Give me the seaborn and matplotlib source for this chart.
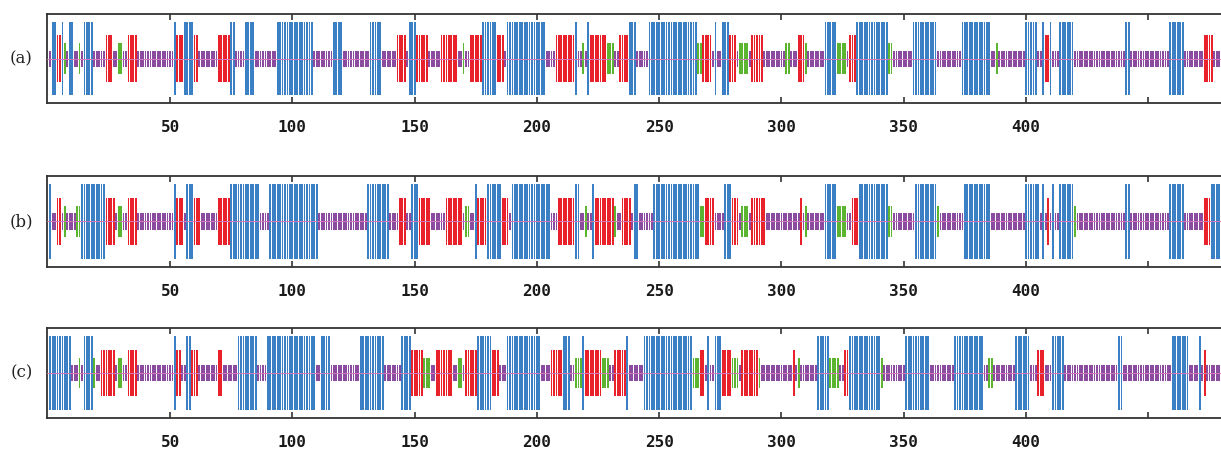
"""
Per-residue state tracks for three predictions (a), (b), (c).
"""
import matplotlib
matplotlib.use("Agg")
import matplotlib.pyplot as plt
import seaborn as sns
import numpy as np
import pandas as pd

n_res = 479
row_labels = ["(a)", "(b)", "(c)"]
tick_values = [50, 100, 150, 200, 250, 300, 350, 400, 450]
tick_labels = ["50", "100", "150", "200", "250", "300", "350", "400", ""]

# (first residue, last residue, state); residues not listed are coil "C"
runs_a = [
    (2, 3, "H"), (4, 5, "E"), (6, 6, "H"), (7, 7, "G"), (9, 10, "H"), (13, 13, "G"),
    (15, 18, "H"), (24, 26, "E"), (29, 30, "G"), (33, 36, "E"), (52, 52, "H"),
    (53, 55, "E"), (56, 59, "H"), (60, 61, "E"), (70, 74, "E"), (75, 76, "H"),
    (81, 84, "H"), (94, 108, "H"), (117, 120, "H"), (132, 136, "H"), (143, 146, "E"),
    (148, 150, "H"), (151, 155, "E"), (161, 167, "E"), (170, 170, "G"), (173, 177, "E"),
    (178, 183, "H"), (184, 186, "E"), (188, 203, "H"), (208, 215, "E"), (216, 216, "H"),
    (219, 219, "G"), (221, 221, "H"), (222, 228, "E"), (229, 231, "G"), (234, 237, "E"),
    (238, 240, "H"), (246, 265, "H"), (266, 267, "G"), (268, 271, "E"), (273, 273, "H"),
    (276, 278, "H"), (279, 281, "E"), (283, 286, "G"), (288, 292, "E"), (302, 303, "G"),
    (307, 309, "E"), (310, 310, "G"), (318, 322, "H"), (323, 326, "G"), (328, 330, "E"),
    (331, 343, "H"), (344, 345, "G"), (354, 363, "H"), (374, 385, "H"), (388, 388, "G"),
    (400, 404, "H"), (407, 407, "H"), (408, 409, "E"), (410, 410, "H"), (414, 419, "H"),
    (441, 442, "H"), (459, 464, "H"), (473, 476, "E"),
]
runs_b = [
    (1, 1, "H"), (4, 5, "E"), (7, 7, "G"), (12, 13, "G"), (14, 23, "H"), (24, 27, "E"),
    (29, 30, "G"), (33, 36, "E"), (52, 52, "H"), (53, 55, "E"), (57, 59, "H"),
    (60, 62, "E"), (70, 74, "E"), (75, 86, "H"), (91, 110, "H"), (131, 139, "H"),
    (144, 146, "E"), (149, 151, "H"), (152, 156, "E"), (163, 169, "E"), (171, 172, "G"),
    (175, 175, "H"), (176, 179, "E"), (180, 185, "H"), (186, 188, "E"), (190, 205, "H"),
    (209, 215, "E"), (216, 217, "H"), (220, 220, "G"), (223, 223, "H"), (224, 231, "E"),
    (232, 232, "G"), (235, 238, "E"), (240, 241, "H"), (248, 266, "H"), (267, 268, "G"),
    (269, 272, "E"), (277, 279, "H"), (280, 282, "E"), (284, 286, "G"), (288, 293, "E"),
    (308, 308, "E"), (310, 310, "G"), (318, 322, "H"), (323, 326, "G"), (329, 331, "E"),
    (332, 343, "H"), (344, 345, "G"), (355, 363, "H"), (364, 364, "G"), (375, 385, "H"),
    (400, 405, "H"), (407, 407, "H"), (409, 409, "E"), (411, 411, "H"), (414, 419, "H"),
    (420, 420, "G"), (441, 442, "H"), (459, 464, "H"), (473, 475, "E"), (476, 479, "H"),
]
runs_c = [
    (1, 9, "H"), (13, 13, "G"), (15, 18, "H"), (19, 19, "G"), (22, 27, "E"), (29, 30, "G"),
    (33, 36, "E"), (52, 52, "H"), (53, 54, "E"), (57, 58, "H"), (59, 61, "E"),
    (70, 71, "E"), (78, 85, "H"), (90, 109, "H"), (112, 115, "H"), (128, 137, "H"),
    (145, 148, "H"), (149, 153, "E"), (154, 156, "G"), (159, 165, "E"), (168, 169, "G"),
    (171, 175, "E"), (176, 181, "H"), (182, 184, "E"), (188, 201, "H"), (206, 210, "E"),
    (211, 213, "H"), (216, 218, "G"), (219, 219, "H"), (220, 226, "E"), (227, 229, "G"),
    (232, 236, "E"), (237, 237, "H"), (244, 263, "H"), (264, 266, "G"), (267, 268, "E"),
    (270, 270, "H"), (273, 275, "H"), (276, 279, "E"), (280, 282, "G"), (284, 290, "E"),
    (291, 291, "G"), (305, 305, "E"), (307, 307, "G"), (315, 319, "H"), (320, 323, "G"),
    (326, 327, "E"), (328, 340, "H"), (341, 341, "G"), (351, 360, "H"), (371, 382, "H"),
    (385, 386, "G"), (396, 401, "H"), (405, 407, "E"), (411, 415, "H"), (438, 439, "H"),
    (460, 466, "H"), (471, 471, "H"), (473, 473, "E"),
]

state_half = {"H": 0.83, "E": 0.52, "G": 0.34, "C": 0.18}
state_colors = {"H": "#3b7fc4", "E": "#e8212b", "G": "#5cb531", "C": "#8b4c9f"}


def expand(runs):
    states = np.array(["C"] * n_res, dtype=object)
    for first, last, st in runs:
        states[first - 1:min(last, n_res)] = st
    df = pd.DataFrame({"residue": np.arange(1, n_res + 1), "state": states})
    df["half"] = df["state"].map(state_half)
    return df


sns.set_style("white")
fig = plt.figure(figsize=(12.21, 4.49), dpi=100)

# axes rectangles (fig fraction) for the three rows
rects = [
    [0.0385, 0.7706, 0.9615, 0.198],
    [0.0385, 0.4055, 0.9615, 0.2027],
    [0.0385, 0.0690, 0.9615, 0.2005],
]

for runs, label, rect in zip([runs_a, runs_b, runs_c], row_labels, rects):
    ax = fig.add_axes(rect)
    df = expand(runs)
    df["neg"] = -df["half"]
    for col in ["half", "neg"]:
        sns.barplot(data=df, x="residue", y=col, hue="state", palette=state_colors,
                    native_scale=True, dodge=False, width=0.74, errorbar=None,
                    saturation=1, legend=False, linewidth=0, ax=ax)
    ax.axhline(0, color="#d27ab8", lw=0.7, zorder=5)
    ax.set_xlim(-0.3, 479.7)
    ax.set_ylim(-1, 1)
    ax.set_xlabel("")
    ax.set_ylabel("")
    ax.set_yticks([])
    ax.set_xticks(tick_values)
    ax.set_xticklabels(tick_labels, family="DejaVu Sans Mono", fontweight="bold",
                       fontsize=11.5, color="#1a1a1a")
    ax.tick_params(axis="x", direction="in", top=True, bottom=True, length=4,
                   width=1.2, color="#333333", pad=12)
    for side in ["top", "bottom", "left"]:
        ax.spines[side].set_visible(True)
        ax.spines[side].set_color("#333333")
        ax.spines[side].set_linewidth(1.3)
    ax.spines["right"].set_visible(False)
    fig.text(0.0175, rect[1] + rect[3] / 2, label, family="DejaVu Serif",
             fontsize=12, ha="center", va="center", color="#222222")

fig.savefig("out.png", dpi=100)
